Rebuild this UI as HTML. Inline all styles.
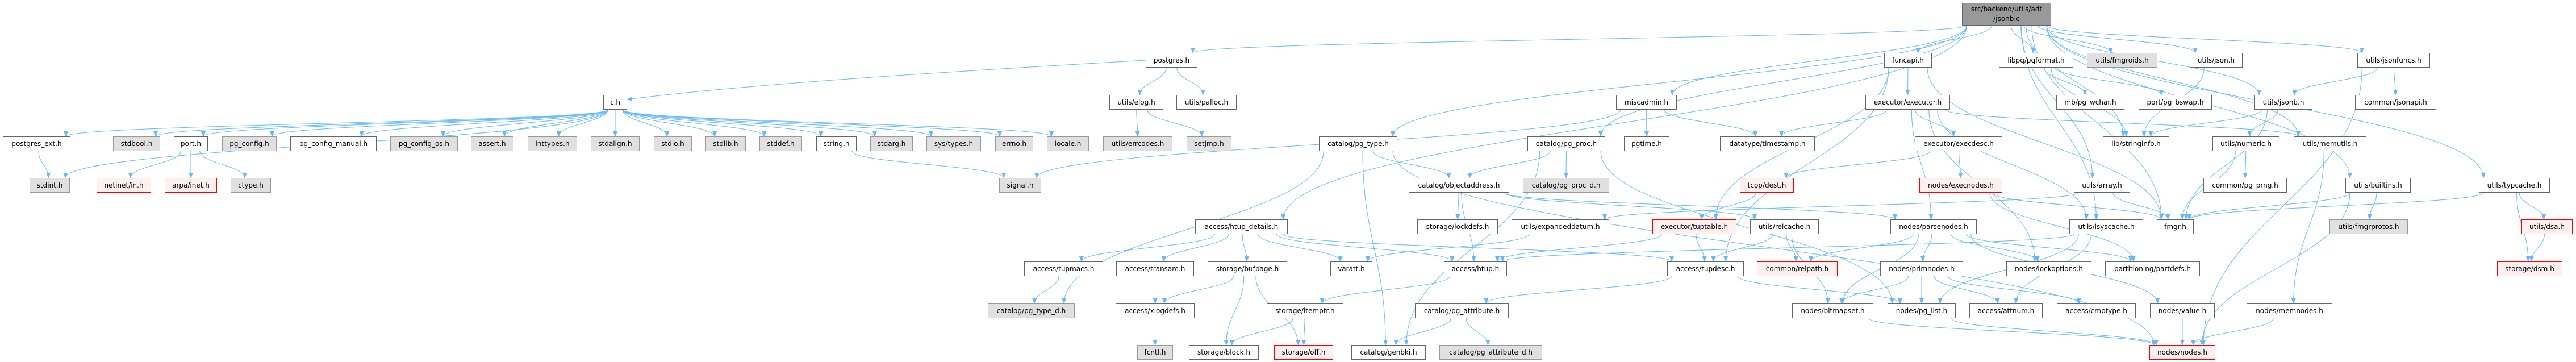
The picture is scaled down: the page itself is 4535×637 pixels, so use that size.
<!DOCTYPE html>
<html><head><meta charset="utf-8">
<style>
html,body{margin:0;padding:0;background:#fff;}
#wrap{position:relative;width:4535px;height:637px;overflow:hidden;background:#fff;}
.n{position:absolute;box-sizing:border-box;height:26px;border:1px solid #666;background:#fff;font-family:"DejaVu Sans","Liberation Sans",sans-serif;font-size:12px;line-height:24px;text-align:center;color:#000;white-space:nowrap;}
.g{background:#e0e0e0;border-color:#999;}
.r{background:#fff0f0;border-color:#ff0000;}
svg{position:absolute;left:0;top:0;}
</style></head><body><div id="wrap">
<svg id="sv" width="4535" height="637" xmlns="http://www.w3.org/2000/svg"><defs><marker id="ah" markerWidth="10" markerHeight="8" refX="9" refY="4" orient="auto" markerUnits="userSpaceOnUse"><path d="M0,0 L10,4 L0,8 z" fill="#63b8ff"/></marker></defs><g id="eg" fill="none" stroke="#63b8ff" stroke-width="1"></g></svg>
<div id="nodes"></div>
</div>
<script>
(function(){
var R=[5,93,167,240,313,386,460,534,607];
var N={
root:[3454,3611,0,'src/backend/utils/adt<br>/jsonb.c','t'],
postgres:[2017,2108,1,'postgres.h'],
funcapi:[3317,3401,1,'funcapi.h'],
pqformat:[3519,3650,1,'libpq/pqformat.h'],
fmgroids:[3674,3798,1,'utils/fmgroids.h','g'],
json:[3855,3948,1,'utils/json.h'],
jsonfuncs:[4150,4278,1,'utils/jsonfuncs.h'],
ch:[1062,1104,2,'c.h'],
elog:[1953,2048,2,'utils/elog.h'],
palloc:[2071,2177,2,'utils/palloc.h'],
miscadmin:[2845,2952,2,'miscadmin.h'],
executor:[3284,3433,2,'executor/executor.h'],
wchar:[3620,3740,2,'mb/pg_wchar.h'],
bswap:[3765,3894,2,'port/pg_bswap.h'],
jsonb:[3969,4071,2,'utils/jsonb.h'],
jsonapi:[4146,4289,2,'common/jsonapi.h'],
pgext:[5,124,3,'postgres_ext.h'],
stdbool:[199,282,3,'stdbool.h','g'],
port:[306,366,3,'port.h'],
pgconfig:[391,487,3,'pg_config.h','g'],
pgcm:[511,663,3,'pg_config_manual.h'],
pgcos:[687,806,3,'pg_config_os.h','g'],
assert:[829,904,3,'assert.h','g'],
inttypes:[929,1016,3,'inttypes.h','g'],
stdalign:[1040,1126,3,'stdalign.h','g'],
stdio:[1151,1218,3,'stdio.h','g'],
stdlib:[1242,1313,3,'stdlib.h','g'],
stddef:[1337,1412,3,'stddef.h','g'],
string:[1437,1508,3,'string.h'],
stdarg:[1532,1607,3,'stdarg.h','g'],
systypes:[1631,1727,3,'sys/types.h','g'],
errno:[1752,1819,3,'errno.h','g'],
locale:[1843,1917,3,'locale.h','g'],
errcodes:[1942,2064,3,'utils/errcodes.h','g'],
setjmp:[2089,2168,3,'setjmp.h','g'],
pgtype:[2322,2460,3,'catalog/pg_type.h'],
pgproc:[2689,2826,3,'catalog/pg_proc.h'],
pgtime:[2859,2939,3,'pgtime.h'],
timestamp:[3028,3195,3,'datatype/timestamp.h'],
execdesc:[3371,3525,3,'executor/execdesc.h'],
stringinfo:[3702,3819,3,'lib/stringinfo.h'],
numeric:[3895,4013,3,'utils/numeric.h'],
memutils:[4038,4166,3,'utils/memutils.h'],
stdint:[52,123,4,'stdint.h','g'],
netinet:[170,266,4,'netinet/in.h','r'],
arpa:[290,382,4,'arpa/inet.h','r'],
ctype:[406,477,4,'ctype.h','g'],
signal:[1759,1833,4,'signal.h','g'],
objaddr:[2480,2657,4,'catalog/objectaddress.h'],
pgprocd:[2681,2833,4,'catalog/pg_proc_d.h','g'],
dest:[3063,3158,4,'tcop/dest.h','r'],
execnodes:[3379,3525,4,'nodes/execnodes.h','r'],
array:[3651,3750,4,'utils/array.h'],
prng:[3879,4026,4,'common/pg_prng.h'],
builtins:[4129,4244,4,'utils/builtins.h'],
typcache:[4364,4489,4,'utils/typcache.h'],
htupd:[2104,2267,5,'access/htup_details.h'],
lockdefs:[2495,2637,5,'storage/lockdefs.h'],
expanded:[2661,2833,5,'utils/expandeddatum.h'],
tuptable:[2909,3057,5,'executor/tuptable.h','r'],
relcache:[3081,3202,5,'utils/relcache.h'],
parsenodes:[3328,3480,5,'nodes/parsenodes.h'],
lsyscache:[3643,3773,5,'utils/lsyscache.h'],
fmgr:[3797,3862,5,'fmgr.h'],
fmgrprotos:[4101,4239,5,'utils/fmgrprotos.h','g'],
dsa:[4439,4529,5,'utils/dsa.h','r'],
tupmacs:[1803,1942,6,'access/tupmacs.h'],
transam:[1965,2102,6,'access/transam.h'],
bufpage:[2126,2266,6,'storage/bufpage.h'],
varatt:[2342,2416,6,'varatt.h'],
htup:[2542,2653,6,'access/htup.h'],
tupdesc:[2935,3070,6,'access/tupdesc.h'],
relpath:[3093,3235,6,'common/relpath.h','r'],
primnodes:[3310,3456,6,'nodes/primnodes.h'],
lockopt:[3532,3682,6,'nodes/lockoptions.h'],
partdefs:[3706,3873,6,'partitioning/partdefs.h'],
dsm:[4396,4511,6,'storage/dsm.h','r'],
pgtyped:[1739,1892,7,'catalog/pg_type_d.h','g'],
xlogdefs:[1964,2103,7,'access/xlogdefs.h'],
itemptr:[2230,2365,7,'storage/itemptr.h'],
pgattr:[2491,2656,7,'catalog/pg_attribute.h'],
bitmapset:[3155,3298,7,'nodes/bitmapset.h'],
pglist:[3323,3443,7,'nodes/pg_list.h'],
attnum:[3467,3596,7,'access/attnum.h'],
cmptype:[3621,3760,7,'access/cmptype.h'],
value:[3785,3899,7,'nodes/value.h'],
memnodes:[3955,4106,7,'nodes/memnodes.h'],
fcntl:[2002,2065,8,'fcntl.h','g'],
block:[2093,2216,8,'storage/block.h'],
off:[2243,2347,8,'storage/off.h','r'],
genbki:[2379,2510,8,'catalog/genbki.h'],
pgattrd:[2534,2715,8,'catalog/pg_attribute_d.h','g'],
nodes:[3784,3900,8,'nodes/nodes.h','r']
};
var E=[
['root','postgres'],['root','funcapi'],['root','pqformat'],['root','fmgroids'],['root','json'],['root','jsonb'],['root','jsonfuncs'],['root','typcache'],['root','builtins'],['root','miscadmin'],['root','pgtype'],['root','pgproc'],['root','htupd'],['root','lsyscache'],['root','memutils'],['root','fmgr'],['root','stringinfo'],['root','array'],
['postgres','elog'],['postgres','palloc'],
['ch','pgext'],['ch','stdbool'],['ch','port'],['ch','pgconfig'],['ch','pgcm'],['ch','pgcos'],['ch','assert'],['ch','inttypes'],['ch','stdalign'],['ch','stdio'],['ch','stdlib'],['ch','stddef'],['ch','string'],['ch','stdarg'],['ch','systypes'],['ch','errno'],['ch','locale'],['ch','stdint'],
['pgext','stdint'],['port','netinet'],['port','arpa'],['port','ctype'],['string','signal'],
['elog','errcodes'],['elog','setjmp'],
['miscadmin','signal'],['miscadmin','pgtime'],['miscadmin','timestamp'],
['funcapi','executor'],['funcapi','fmgr'],['funcapi','tupdesc'],['funcapi','tuptable'],
['executor','timestamp'],['executor','execdesc'],['executor','parsenodes'],['executor','lockopt'],['executor','memutils'],['executor','lsyscache'],
['execdesc','dest'],['execdesc','execnodes'],['dest','tuptable'],
['execnodes','fmgr'],['execnodes','partdefs'],
['tuptable','htup'],['tuptable','tupdesc'],
['pqformat','wchar'],['pqformat','bswap'],['pqformat','stringinfo'],
['json','stringinfo'],
['jsonfuncs','jsonb'],['jsonfuncs','jsonapi'],['jsonfuncs','nodes'],
['jsonb','stringinfo'],['jsonb','numeric'],['jsonb','fmgr'],
['numeric','prng'],['numeric','fmgr'],
['memutils','memnodes'],['memnodes','nodes'],
['builtins','fmgr'],['builtins','fmgrprotos'],['builtins','nodes'],
['typcache','fmgr'],['typcache','dsa'],['typcache','dsm'],['dsa','dsm'],
['array','fmgr'],['array','expanded'],
['lsyscache','attnum'],['lsyscache','htup'],['lsyscache','pglist'],
['expanded','varatt'],
['relcache','relpath'],['relcache','tupdesc'],['relcache','bitmapset'],
['parsenodes','relpath'],['parsenodes','primnodes'],['parsenodes','lockopt'],['parsenodes','partdefs'],['parsenodes','bitmapset'],['parsenodes','value'],
['primnodes','bitmapset'],['primnodes','pglist'],['primnodes','attnum'],['primnodes','cmptype'],
['tupdesc','pgattr'],['tupdesc','pglist'],
['pgattr','genbki'],['pgattr','pgattrd'],
['htupd','tupmacs'],['htupd','transam'],['htupd','bufpage'],['htupd','varatt'],['htupd','htup'],['htupd','tupdesc'],
['tupmacs','pgtyped'],['transam','xlogdefs'],['bufpage','xlogdefs'],['bufpage','block'],['bufpage','off'],
['itemptr','block'],['itemptr','off'],['htup','itemptr'],['xlogdefs','fcntl'],
['pgtype','objaddr'],['pgtype','genbki'],['pgtype','pgtyped'],['pgtype','nodes'],
['pgproc','objaddr'],['pgproc','pgprocd'],['pgproc','genbki'],['pgproc','pglist'],
['objaddr','lockdefs'],['objaddr','htup'],['objaddr','relcache'],['objaddr','parsenodes'],
['value','nodes'],['bitmapset','nodes'],['pglist','nodes']
];
var nd=document.getElementById('nodes'),h='';
for(var k in N){var a=N[k];var ty=R[a[2]],ht=a[2]==0?40:26;
var st='left:'+a[0]+'px;top:'+ty+'px;width:'+(a[1]-a[0])+'px;height:'+ht+'px;';
var cl='n'+(a[4]&&a[4]!='t'?' '+a[4]:'');
if(a[4]=='t'){st+='background:#999;border-color:#666;line-height:17px;padding-top:2px;';}
h+='<div class="'+cl+'" style="'+st+'">'+a[3]+'</div>';}
nd.innerHTML=h;
var g=document.getElementById('eg'),s='';
function bx(k){var a=N[k];return{x1:a[0],x2:a[1],y1:R[a[2]],y2:R[a[2]]+(a[2]==0?40:26),r:a[2]};}
E.forEach(function(e){var A=bx(e[0]),B=bx(e[1]);var ca=(A.x1+A.x2)/2,cb=(B.x1+B.x2)/2;var d;
if(B.r>A.r){var sx=Math.max(A.x1+8,Math.min(A.x2-8,ca+(cb-ca)*0.15));var tx=Math.max(B.x1+8,Math.min(B.x2-8,cb+(ca-cb)*0.1));
var sy=A.y2,ey=B.y1;var dy=ey-sy;
d='M'+sx+','+sy+' C'+sx+','+(sy+dy*0.45)+' '+tx+','+(ey-dy*0.45)+' '+tx+','+ey;}
else{var sx2,tx2,yy1=(A.y1+A.y2)/2,yy2=(B.y1+B.y2)/2;if(cb<ca){sx2=A.x1;tx2=B.x2;}else{sx2=A.x2;tx2=B.x1;}
d='M'+sx2+','+yy1+' C'+((sx2+tx2)/2)+','+yy1+' '+((sx2+tx2)/2)+','+yy2+' '+tx2+','+yy2;}
s+='<path d="'+d+'" marker-end="url(#ah)"/>';});
s+='<path d="M2017,106 C1600,130 1300,150 1104,175" marker-end="url(#ah)"/>';
g.innerHTML=s;
})();
</script>
</body></html>
